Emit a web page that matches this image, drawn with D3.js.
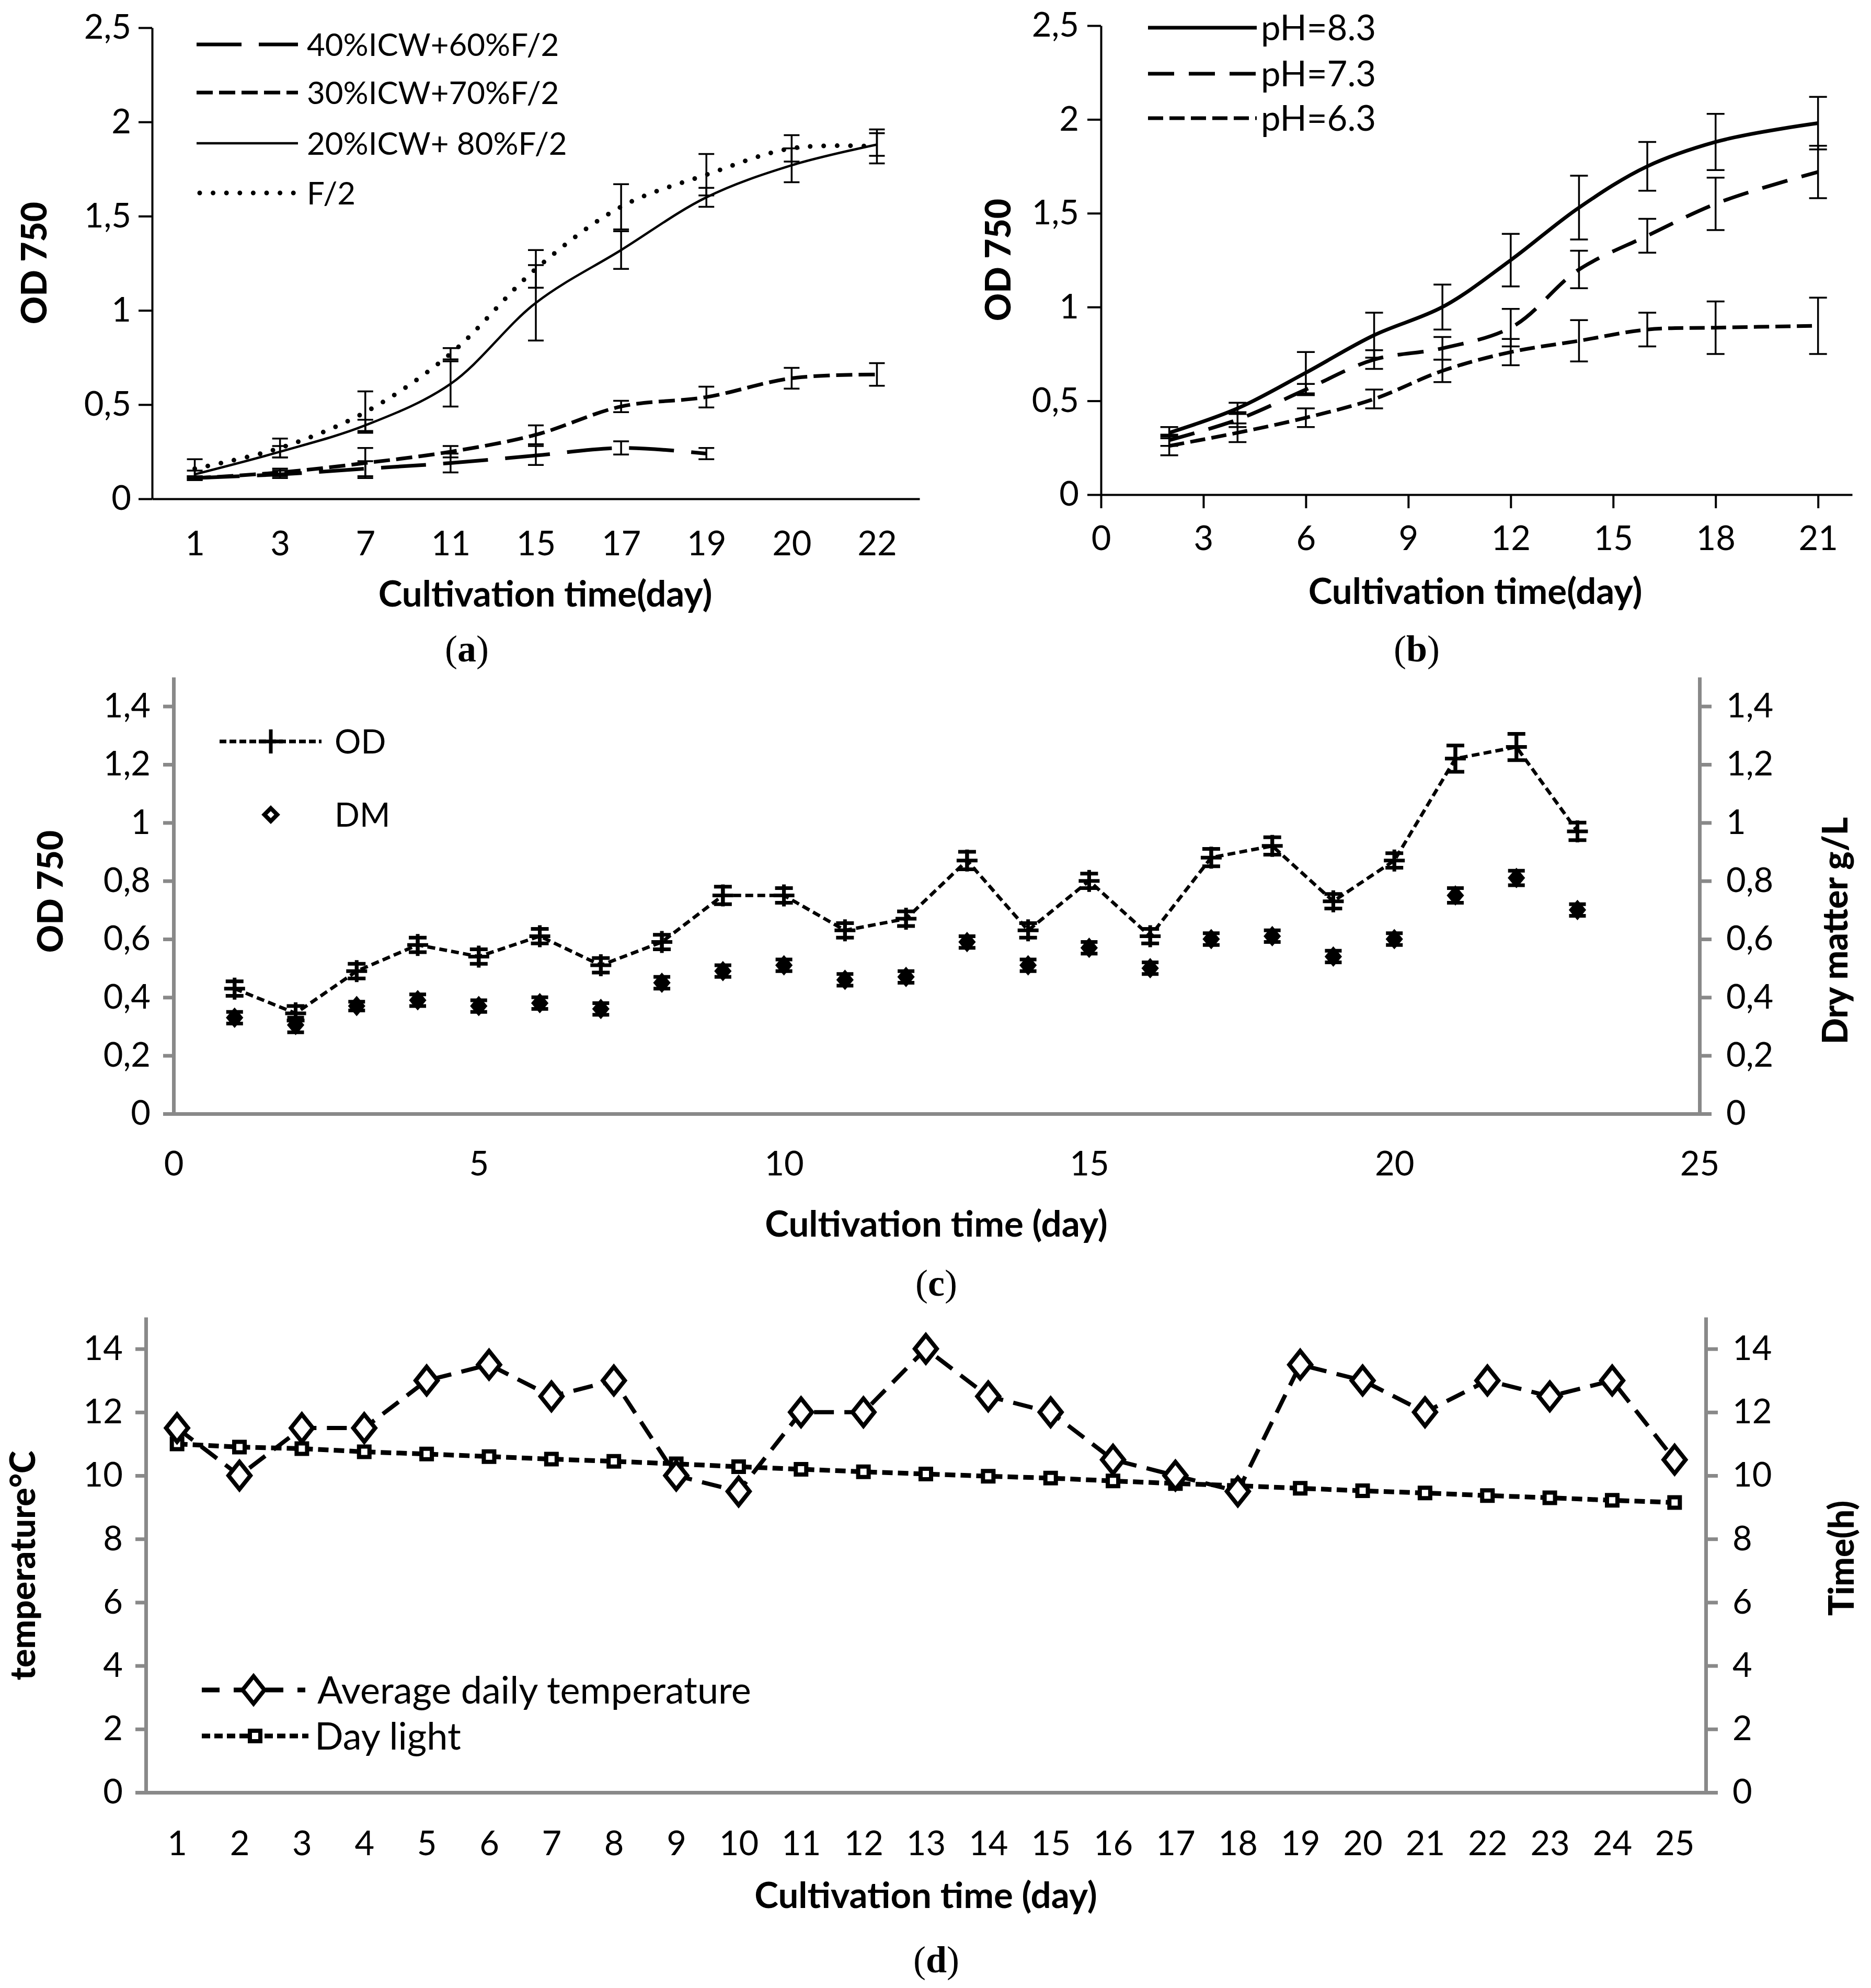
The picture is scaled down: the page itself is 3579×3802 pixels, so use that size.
<!DOCTYPE html>
<html>
<head>
<meta charset="utf-8">
<script src="https://cdn.jsdelivr.net/npm/d3@7"></script>
<style>body{margin:0;background:#fff}</style>
</head>
<body>
<script>
// ---- panel (a): medium mixes
var daysA = ['1', '3', '7', '11', '15', '17', '19', '20', '22'];
var icw40 = [0.11, 0.13, 0.16, 0.19, 0.23, 0.27, 0.24];
var icw40Err = [0.01, 0.02, 0.04, 0.05, 0.05, 0.035, 0.03];
var icw30 = [0.11, 0.14, 0.19, 0.25, 0.34, 0.49, 0.54, 0.64, 0.66];
var icw30Err = [0.01, 0.02, 0.08, 0.03, 0.05, 0.03, 0.055, 0.055, 0.06];
var icw20 = [0.13, 0.25, 0.39, 0.61, 1.04, 1.32, 1.60, 1.77, 1.88];
var icw20Err = [0.02, 0.03, 0.03, 0.12, 0.2, 0.1, 0.05, 0.09, 0.06];
var f2 = [0.16, 0.27, 0.46, 0.77, 1.22, 1.55, 1.72, 1.86, 1.87];
var f2Err = [0.05, 0.05, 0.11, 0.03, 0.1, 0.12, 0.11, 0.07, 0.09];
var namesA = ['40%ICW+60%F/2', '30%ICW+70%F/2', '20%ICW+ 80%F/2', 'F/2'];

// ---- panel (b): pH
var daysB = [2, 4, 6, 8, 10, 12, 14, 16, 18, 21];
var ph83 = [0.33, 0.46, 0.65, 0.85, 1.0, 1.25, 1.53, 1.75, 1.88, 1.98];
var ph83Err = [0.03, 0.03, 0.11, 0.12, 0.12, 0.14, 0.17, 0.13, 0.15, 0.14];
var ph73 = [0.29, 0.40, 0.56, 0.72, 0.78, 0.89, 1.20, 1.38, 1.55, 1.72];
var ph73Err = [0.03, 0.04, 0.03, 0.05, 0.06, 0.1, 0.1, 0.09, 0.14, 0.14];
var ph63 = [0.26, 0.33, 0.41, 0.51, 0.66, 0.76, 0.82, 0.88, 0.89, 0.90];
var ph63Err = [0.05, 0.05, 0.05, 0.05, 0.06, 0.07, 0.11, 0.09, 0.14, 0.15];
var namesB = ['pH=8.3', 'pH=7.3', 'pH=6.3'];

// ---- panel (c): OD and dry matter
var daysC = [1, 2, 3, 4, 5, 6, 7, 8, 9, 10, 11, 12, 13, 14, 15, 16, 17, 18, 19, 20, 21, 22, 23];
var od = [0.43, 0.345, 0.49, 0.58, 0.54, 0.61, 0.51, 0.59, 0.75, 0.75, 0.63, 0.67, 0.87, 0.63, 0.80, 0.61, 0.88, 0.92, 0.73, 0.87, 1.22, 1.26, 0.97];
var odErr = [0.025, 0.025, 0.025, 0.025, 0.025, 0.025, 0.025, 0.025, 0.03, 0.025, 0.025, 0.025, 0.03, 0.025, 0.025, 0.025, 0.03, 0.03, 0.025, 0.025, 0.045, 0.045, 0.03];
var dm = [0.33, 0.305, 0.37, 0.39, 0.37, 0.38, 0.36, 0.45, 0.49, 0.51, 0.46, 0.47, 0.59, 0.51, 0.57, 0.50, 0.60, 0.61, 0.54, 0.60, 0.75, 0.81, 0.70];
var dmErr = [0.02, 0.025, 0.015, 0.02, 0.02, 0.02, 0.02, 0.02, 0.02, 0.02, 0.02, 0.02, 0.02, 0.02, 0.02, 0.02, 0.02, 0.02, 0.02, 0.02, 0.025, 0.025, 0.02];

// ---- panel (d): weather
var daysD = ['1','2','3','4','5','6','7','8','9','10','11','12','13','14','15','16','17','18','19','20','21','22','23','24','25'];
var temp = [11.5, 10, 11.5, 11.5, 13, 13.5, 12.5, 13, 10, 9.5, 12, 12, 14, 12.5, 12, 10.5, 10, 9.5, 13.5, 13, 12, 13, 12.5, 13, 10.5];
var dayLight = [11.0, 10.9, 10.85, 10.75, 10.68, 10.6, 10.52, 10.45, 10.37, 10.28, 10.2, 10.12, 10.05, 9.98, 9.92, 9.83, 9.75, 9.68, 9.6, 9.52, 9.45, 9.37, 9.3, 9.22, 9.15];

var svg = d3.select('body').append('svg')
	.attr('width', 3579)
	.attr('height', 3802)
	.style('background', '#fff');

var font = 'Lato, "Open Sans", sans-serif';
var grey = '#898989';
var comma = function(d){ return String(d).replace('.', ','); };

function styleAxis(g, color, width, size) {
	g.attr('font-family', font).attr('font-size', size);
	g.select('.domain').attr('stroke', color).attr('stroke-width', width);
	g.selectAll('.tick line').attr('stroke', color).attr('stroke-width', width);
	g.selectAll('.tick text').attr('fill', '#000');
}

function xTitle(x, y, txt) {
	svg.append('text').attr('x', x).attr('y', y).attr('dy', '0.35em')
		.attr('text-anchor', 'middle').attr('font-family', font)
		.attr('font-weight', 'bold').attr('font-size', 69).text(txt);
}
function yTitle(x, y, txt) {
	svg.append('text').attr('transform', 'translate(' + x + ',' + y + ') rotate(-90)')
		.attr('dy', '0.35em').attr('text-anchor', 'middle').attr('font-family', font)
		.attr('font-weight', 900).attr('font-size', 66).text(txt);
}
function caption(x, y, letter) {
	var t = svg.append('text').attr('x', x).attr('y', y).attr('dy', '0.32em')
		.attr('text-anchor', 'middle')
		.attr('font-family', '"Liberation Serif", "Times New Roman", serif')
		.attr('font-size', 72);
	t.append('tspan').text('(');
	t.append('tspan').attr('font-weight', 'bold').text(letter);
	t.append('tspan').text(')');
}
function errorBars(g, pts, x, y, cap, sw) {
	var eb = g.append('g').attr('stroke', '#000').attr('stroke-width', sw).attr('fill', 'none');
	eb.selectAll(null).data(pts).join('path')
		.attr('d', function(d){
			var px = x(d.x), lo = y(d.v - d.e), hi = y(d.v + d.e);
			return 'M' + px + ',' + lo + 'V' + hi +
				'M' + (px - cap) + ',' + lo + 'H' + (px + cap) +
				'M' + (px - cap) + ',' + hi + 'H' + (px + cap);
		});
}
function pts(xs, vals, errs) {
	return vals.map(function(v, i){ return {x: xs[i], v: v, e: errs ? errs[i] : 0}; });
}
// rhombus symbol with its own width / height ratio
function rhombus(ratio) {
	return {draw: function(ctx, size) {
		var h = Math.sqrt(size / (2 * ratio)), w = h * ratio;
		ctx.moveTo(0, -h); ctx.lineTo(w, 0); ctx.lineTo(0, h); ctx.lineTo(-w, 0); ctx.closePath();
	}};
}

// =============== (a)
var xA = d3.scalePoint().domain(daysA).range([291, 1759]).padding(0.5);
var yA = d3.scaleLinear().domain([0, 2.5]).range([954, 53]);
var gA = svg.append('g');

var axA = gA.append('g').attr('transform', 'translate(0,954)')
	.call(d3.axisBottom(xA).tickSize(0).tickPadding(62).tickSizeOuter(0));
styleAxis(axA, '#000', 4, 65);
var ayA = gA.append('g').attr('transform', 'translate(291,0)')
	.call(d3.axisLeft(yA).tickValues([0, 0.5, 1, 1.5, 2, 2.5]).tickFormat(comma).tickSize(26).tickPadding(14).tickSizeOuter(0));
styleAxis(ayA, '#000', 4, 65);

var seriesA = [pts(daysA, icw40, icw40Err), pts(daysA, icw30, icw30Err), pts(daysA, icw20, icw20Err), pts(daysA, f2, f2Err)];
var widthA = [7, 7, 4.5, 9];
var dashA = ['86,33', '31,12', null, '0,25.6'];
var capA = ['butt', 'butt', 'butt', 'round'];

seriesA.forEach(function(s){ errorBars(gA, s, xA, yA, 15, 3.5); });
var lineA = d3.line().x(function(d){ return xA(d.x); }).y(function(d){ return yA(d.v); }).curve(d3.curveCatmullRom);
gA.selectAll('.ser').data(seriesA).join('path')
	.attr('d', lineA).attr('fill', 'none').attr('stroke', '#000')
	.attr('stroke-width', function(d, i){ return widthA[i]; })
	.attr('stroke-dasharray', function(d, i){ return dashA[i]; })
	.attr('stroke-linecap', function(d, i){ return capA[i]; });

var legA = gA.selectAll('.leg').data(namesA).join('g')
	.attr('transform', function(d, i){ return 'translate(0,' + [85, 177, 274, 369][i] + ')'; });
legA.append('line').attr('x1', function(d, i){ return i == 3 ? 382 : 376; }).attr('x2', 570)
	.attr('stroke', '#000')
	.attr('stroke-width', function(d, i){ return widthA[i]; })
	.attr('stroke-dasharray', function(d, i){ return dashA[i]; })
	.attr('stroke-linecap', function(d, i){ return capA[i]; });
legA.append('text').attr('x', 587).attr('dy', '0.36em').attr('font-family', font)
	.attr('font-size', 60).text(function(d){ return d; });

yTitle(66, 503, 'OD 750');
xTitle(1043, 1136, 'Cultivation time(day)');
caption(893, 1242, 'a');

// =============== (b)
var xB = d3.scaleLinear().domain([0, 22]).range([2106, 3543]);
var yB = d3.scaleLinear().domain([0, 2.5]).range([946, 49]);
var gB = svg.append('g');

var axB = gB.append('g').attr('transform', 'translate(0,946)')
	.call(d3.axisBottom(xB).tickValues([0, 3, 6, 9, 12, 15, 18, 21]).tickSize(26).tickPadding(34).tickSizeOuter(0));
styleAxis(axB, '#000', 4, 65);
var ayB = gB.append('g').attr('transform', 'translate(2106,0)')
	.call(d3.axisLeft(yB).tickValues([0, 0.5, 1, 1.5, 2, 2.5]).tickFormat(comma).tickSize(26).tickPadding(16).tickSizeOuter(0));
styleAxis(ayB, '#000', 4, 65);

var seriesB = [pts(daysB, ph83, ph83Err), pts(daysB, ph73, ph73Err), pts(daysB, ph63, ph63Err)];
var dashB = [null, '50,28', '29,12'];
seriesB.forEach(function(s){ errorBars(gB, s, xB, yB, 17, 3.5); });
var lineB = d3.line().x(function(d){ return xB(d.x); }).y(function(d){ return yB(d.v); }).curve(d3.curveCatmullRom.alpha(0.9));
gB.selectAll('.ser').data(seriesB).join('path')
	.attr('d', lineB).attr('fill', 'none').attr('stroke', '#000').attr('stroke-width', 7)
	.attr('stroke-dasharray', function(d, i){ return dashB[i]; });

var legB = gB.selectAll('.leg').data(namesB).join('g')
	.attr('transform', function(d, i){ return 'translate(0,' + [53, 141, 226][i] + ')'; });
legB.append('line').attr('x1', 2196).attr('x2', 2404).attr('stroke', '#000').attr('stroke-width', 7)
	.attr('stroke-dasharray', function(d, i){ return dashB[i]; });
legB.append('text').attr('x', 2412).attr('dy', '0.36em').attr('font-family', font)
	.attr('font-size', 67).text(function(d){ return d; });

yTitle(1910, 497, 'OD 750');
xTitle(2822, 1131, 'Cultivation time(day)');
caption(2710, 1242, 'b');

// =============== (c)
var xC = d3.scaleLinear().domain([0, 25]).range([332, 3251]);
var yC = d3.scaleLinear().domain([0, 1.5]).range([2130, 1295]);
var gC = svg.append('g');
var tickC = [0, 0.2, 0.4, 0.6, 0.8, 1, 1.2, 1.4];

var axC = gC.append('g').attr('transform', 'translate(0,2130)')
	.call(d3.axisBottom(xC).tickValues([0, 5, 10, 15, 20, 25]).tickSize(0).tickPadding(72).tickSizeOuter(0));
styleAxis(axC, grey, 7, 65);
axC.select('.domain').attr('d', 'M312,0.5H3274');
var ayC = gC.append('g').attr('transform', 'translate(332,0)')
	.call(d3.axisLeft(yC).tickValues(tickC).tickFormat(comma).tickSize(20).tickPadding(24).tickSizeOuter(0));
styleAxis(ayC, grey, 7, 65);
var ayC2 = gC.append('g').attr('transform', 'translate(3251,0)')
	.call(d3.axisRight(yC).tickValues(tickC).tickFormat(comma).tickSize(23).tickPadding(28).tickSizeOuter(0));
styleAxis(ayC2, grey, 7, 65);

var odPts = pts(daysC, od, odErr);
var dmPts = pts(daysC, dm, dmErr);
errorBars(gC, odPts, xC, yC, 17, 7);
errorBars(gC, dmPts, xC, yC, 16, 7);
gC.append('path').datum(odPts)
	.attr('d', d3.line().x(function(d){ return xC(d.x); }).y(function(d){ return yC(d.v); }))
	.attr('fill', 'none').attr('stroke', '#000').attr('stroke-width', 6.5).attr('stroke-dasharray', '15,8');
gC.selectAll('.odm').data(odPts).join('path')
	.attr('d', function(d){ var px = xC(d.x), py = yC(d.v);
		return 'M' + (px - 20) + ',' + py + 'H' + (px + 20) + 'M' + px + ',' + (py - 21) + 'V' + (py + 21); })
	.attr('stroke', '#000').attr('stroke-width', 7);
var diamondC = d3.symbol(rhombus(0.85), 420);
gC.selectAll('.dmm').data(dmPts).join('path')
	.attr('transform', function(d){ return 'translate(' + xC(d.x) + ',' + yC(d.v) + ')'; })
	.attr('d', diamondC).attr('fill', '#000').attr('stroke', '#000').attr('stroke-width', 5);

// legend (c)
gC.append('line').attr('x1', 420).attr('x2', 615).attr('y1', 1418).attr('y2', 1418)
	.attr('stroke', '#000').attr('stroke-width', 7).attr('stroke-dasharray', '13,6');
gC.append('path').attr('d', 'M495,1418H541M518,1395V1441').attr('stroke', '#000').attr('stroke-width', 7);
gC.append('path').attr('transform', 'translate(518,1558)').attr('d', d3.symbol(rhombus(1), 300))
	.attr('fill', '#fff').attr('stroke', '#000').attr('stroke-width', 8);
gC.append('text').attr('x', 640).attr('y', 1418).attr('dy', '0.36em').attr('font-family', font).attr('font-size', 63).text('OD');
gC.append('text').attr('x', 640).attr('y', 1558).attr('dy', '0.36em').attr('font-family', font).attr('font-size', 63).text('DM');

yTitle(97, 1705, 'OD 750');
yTitle(3511, 1780, 'Dry matter g/L');
xTitle(1791, 2341, 'Cultivation time (day)');
caption(1791, 2455, 'c');

// =============== (d)
var xD = d3.scalePoint().domain(daysD).range([279, 3263]).padding(0.5);
var yD = d3.scaleLinear().domain([0, 15]).range([3428, 2519]);
var gD = svg.append('g');
var tickD = [0, 2, 4, 6, 8, 10, 12, 14];

var axD = gD.append('g').attr('transform', 'translate(0,3428)')
	.call(d3.axisBottom(xD).tickSize(0).tickPadding(74).tickSizeOuter(0));
styleAxis(axD, grey, 7, 65);
axD.select('.domain').attr('d', 'M259,0.5H3286');
var ayD = gD.append('g').attr('transform', 'translate(279,0)')
	.call(d3.axisLeft(yD).tickValues(tickD).tickSize(20).tickPadding(24).tickSizeOuter(0));
styleAxis(ayD, grey, 7, 65);
var ayD2 = gD.append('g').attr('transform', 'translate(3263,0)')
	.call(d3.axisRight(yD).tickValues(tickD).tickSize(23).tickPadding(28).tickSizeOuter(0));
styleAxis(ayD2, grey, 7, 65);

var tempPts = pts(daysD, temp);
var lightPts = pts(daysD, dayLight);
var lineD = d3.line().x(function(d){ return xD(d.x); }).y(function(d){ return yD(d.v); });
gD.append('path').datum(lightPts).attr('d', lineD).attr('fill', 'none')
	.attr('stroke', '#000').attr('stroke-width', 9).attr('stroke-dasharray', '20,10');
gD.append('path').datum(tempPts).attr('d', lineD).attr('fill', 'none')
	.attr('stroke', '#000').attr('stroke-width', 8).attr('stroke-dasharray', '38,20');
var squareD = d3.symbol(d3.symbolSquare, 400);
var diamondD = d3.symbol(rhombus(0.8), 1100);
gD.selectAll('.lm').data(lightPts).join('path')
	.attr('transform', function(d){ return 'translate(' + xD(d.x) + ',' + yD(d.v) + ')'; })
	.attr('d', squareD).attr('fill', '#fff').attr('stroke', '#000').attr('stroke-width', 8);
gD.selectAll('.tm').data(tempPts).join('path')
	.attr('transform', function(d){ return 'translate(' + xD(d.x) + ',' + yD(d.v) + ')'; })
	.attr('d', diamondD).attr('fill', '#fff').attr('stroke', '#000').attr('stroke-width', 8);

// legend (d)
gD.append('line').attr('x1', 386).attr('x2', 584).attr('y1', 3232).attr('y2', 3232)
	.attr('stroke', '#000').attr('stroke-width', 9).attr('stroke-dasharray', '34,27');
gD.append('path').attr('transform', 'translate(485,3232)').attr('d', diamondD)
	.attr('fill', '#fff').attr('stroke', '#000').attr('stroke-width', 8);
gD.append('line').attr('x1', 386).attr('x2', 590).attr('y1', 3320).attr('y2', 3320)
	.attr('stroke', '#000').attr('stroke-width', 9).attr('stroke-dasharray', '16,8');
gD.append('path').attr('transform', 'translate(488,3320)').attr('d', squareD)
	.attr('fill', '#fff').attr('stroke', '#000').attr('stroke-width', 8);
gD.append('text').attr('x', 607).attr('y', 3232).attr('dy', '0.36em').attr('font-family', font).attr('font-size', 72).text('Average daily temperature');
gD.append('text').attr('x', 602).attr('y', 3320).attr('dy', '0.36em').attr('font-family', font).attr('font-size', 72).text('Day light');

yTitle(44, 2994, 'temperature°C');
yTitle(3523, 2980, 'Time(h)');
xTitle(1771, 3625, 'Cultivation time (day)');
caption(1791, 3749, 'd');
</script>
</body>
</html>
